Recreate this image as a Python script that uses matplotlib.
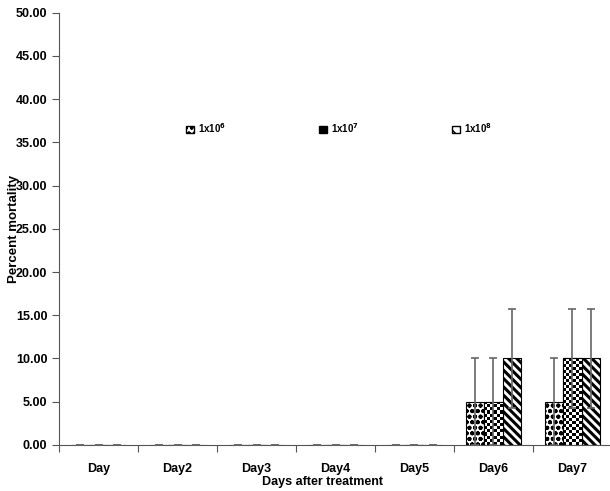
import numpy as np
import matplotlib
matplotlib.use('Agg')
import matplotlib.pyplot as plt
from matplotlib.patches import Patch

plt.rcParams['font.family'] = ['Liberation Sans', 'DejaVu Sans']
plt.rcParams['font.weight'] = 'bold'
plt.rcParams['hatch.linewidth'] = 1.0

days = ['Day', 'Day2', 'Day3', 'Day4', 'Day5', 'Day6', 'Day7']
dose_1e6 = [0, 0, 0, 0, 0, 5, 5]
dose_1e7 = [0, 0, 0, 0, 0, 5, 10]
dose_1e8 = [0, 0, 0, 0, 0, 10, 10]
err_1e6 = [0, 0, 0, 0, 0, 5, 5]
err_1e7 = [0, 0, 0, 0, 0, 5, 5.77]
err_1e8 = [0, 0, 0, 0, 0, 5.77, 5.77]
labels = [r'1x10$^\mathbf{6}$', r'1x10$^\mathbf{7}$', r'1x10$^\mathbf{8}$']
yticks = np.arange(0, 50.01, 5)


def checker_fill(ax, bar, ncols=6, sq=0.35):
    # checkerboard inside a bar, clipped to it
    h = bar.get_height()
    if h <= 0:
        return
    nrows = max(1, int(round(h / sq)))
    grid = (np.indices((nrows, ncols)).sum(axis=0) % 2).astype(float)
    x0 = bar.get_x()
    im = ax.imshow(grid, cmap='gray', interpolation='nearest', aspect='auto',
                   extent=(x0, x0 + bar.get_width(), 0, h), zorder=2)
    im.set_clip_path(bar)


def thick_hatch(bars, lw):
    for b in bars:
        try:
            b.set_hatch_linewidth(lw)
        except AttributeError:
            b._hatch_linewidth = lw


fig = plt.figure(figsize=(6.1, 4.91), dpi=100)
ax = fig.add_axes([0.097, 0.094, 0.906, 0.88])

x = np.arange(len(days))
w = 0.233
series = [dose_1e6, dose_1e7, dose_1e8]
errs = [err_1e6, err_1e7, err_1e8]
hatches = ['ooo', None, '\\\\\\\\']

for i, (vals, e) in enumerate(zip(series, errs)):
    pos = x + (i - 1) * w
    bars = ax.bar(pos, vals, w, color='white', edgecolor='black', linewidth=0.8,
                  hatch=hatches[i], zorder=1)
    if i == 0:
        thick_hatch(bars, 1.3)
    if i == 2:
        thick_hatch(bars, 2.2)
    if i == 1:
        for b in bars:
            checker_fill(ax, b)
        ax.bar(pos, vals, w, color='none', edgecolor='black', linewidth=0.8, zorder=3)
    ax.errorbar(pos, vals, yerr=e, fmt='none', ecolor='#666666', elinewidth=1.2,
                capsize=3, capthick=1.2, zorder=4)

ax.set_xlim(-0.5, len(days) - 0.5)
ax.set_ylim(0, 50)
ax.set_yticks(yticks)
ax.set_yticklabels(['%.2f' % v for v in yticks], fontsize=9, fontweight='bold')
ax.set_xticks(np.arange(-0.5, len(days), 1))
ax.set_xticklabels([])
ax.set_xticks(x, minor=True)
ax.set_xticklabels(days, minor=True, fontsize=9, fontweight='bold')
ax.tick_params(axis='x', which='minor', length=0, pad=13)
ax.tick_params(axis='x', which='major', length=5, color='#555555')
ax.tick_params(axis='y', length=5, color='#555555')
for s in ['top', 'right']:
    ax.spines[s].set_visible(False)
for s in ['left', 'bottom']:
    ax.spines[s].set_color('#555555')

ax.set_ylabel('Percent mortality', fontsize=9.5, fontweight='bold')
ax.yaxis.set_label_coords(-0.07, 0.5)
ax.set_xlabel('Days after treatment', fontsize=9, fontweight='bold')
ax.xaxis.set_label_coords(0.477, -0.072)

handles = [Patch(facecolor='white', edgecolor='black', hatch='ooo'),
           Patch(facecolor='black', edgecolor='black', hatch='++'),
           Patch(facecolor='white', edgecolor='black', hatch='\\\\\\')]
fig.legend(handles, labels, loc='center', bbox_to_anchor=(0.556, 0.739), ncol=3,
           frameon=False, handlelength=0.8, handleheight=0.8,
           handletextpad=0.4, columnspacing=9.6, prop={'weight': 'bold', 'size': 7})

fig.savefig('out.png', dpi=100)
